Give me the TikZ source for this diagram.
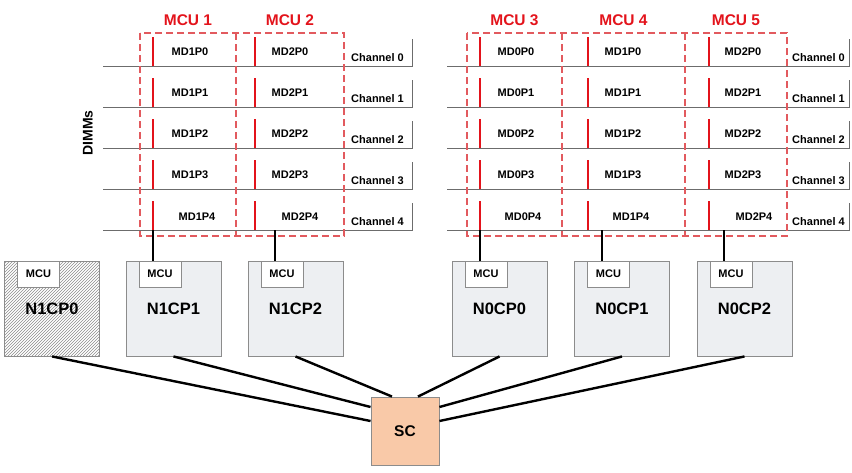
\documentclass[tikz,border=0pt]{standalone}
\usepackage{fontspec}
\setmainfont{Liberation Sans}
\usetikzlibrary{positioning,patterns,calc}
\definecolor{mcured}{HTML}{E3131B}
\definecolor{dashred}{HTML}{E25A5E}
\definecolor{cpufill}{HTML}{EDEFF2}
\definecolor{scfill}{HTML}{F9C9A8}
\definecolor{rimgray}{HTML}{8C8C8C}

\begin{document}
\begin{tikzpicture}[x=1pt, y=-1pt]
		\tikzstyle{every node} = [font=\bfseries, inner sep=0pt]
		\tikzstyle{chan} = [draw=gray!85!black, line width=0.9pt]
		\tikzstyle{slot} = [draw=mcured, line width=2.8pt]
		\tikzstyle{mcubox} = [draw=dashred, line width=1.2pt, dash pattern=on 7pt off 4pt]
		\tikzstyle{cpu} = [draw=rimgray, fill=cpufill, line width=0.9pt, minimum width=95pt, minimum height=95pt]
		\tikzstyle{chip} = [draw=rimgray, fill=white, line width=0.9pt, minimum width=42pt, minimum height=26pt, anchor=north west, font=\bfseries\fontsize{11}{11}\selectfont]
		\tikzstyle{link} = [draw=black, line width=2.4pt]
		\tikzstyle{dimmtxt} = [font=\bfseries\fontsize{11}{11}\selectfont]
		\useasboundingbox (0,0) rectangle (852,472);
		% DIMM channels
		\foreach \r/\y in {0/66, 1/107, 2/148, 3/189, 4/230} {
			\draw[chan] (103,\y) -- (412,\y) -- (412,\y-27);
			\draw[chan] (447,\y) -- (849,\y) -- (849,\y-27);
			\node[anchor=east, dimmtxt] at (404,\y-8) {Channel \r};
			\node[anchor=east, dimmtxt] at (845,\y-8) {Channel \r};
			\foreach \x in {153, 255, 480, 588, 709}
			\draw[slot] (\x,\y) -- (\x,\y-29);
		}
		\foreach \r/\y in {0/66, 1/107, 2/148, 3/189} {
			\foreach \x/\d in {190/1, 290/2, 516/0, 623/1, 743/2}
			\node[dimmtxt] at (\x,\y-14) {MD\d P\r};
		}
		\foreach \x/\d in {197/1, 300/2, 523/0, 631/1, 754/2}
		\node[dimmtxt] at (\x,217) {MD\d P4};
		\node[rotate=90, font=\bfseries\fontsize{14}{14}\selectfont] (dimms) at (88,133) {DIMMs};
		% memory controller groups
		\draw[mcubox] (140,33) rectangle (344,236);
		\draw[mcubox] (467,33) rectangle (787,236);
		\foreach \x in {236, 562, 685}
		\draw[mcubox] (\x,33) -- (\x,236);
		\foreach \a/\b/\n in {140/236/1, 236/344/2, 467/562/3, 562/685/4, 685/787/5}
		\node[text=mcured, font=\bfseries\fontsize{15.5}{15.5}\selectfont] at ({(\a+\b)/2},20) {MCU \n};
		% processors
		\node[cpu, fill=white, pattern=north east lines, pattern color=gray!90] (cpuA) at (52,308.5) {};
		\node[cpu] (cpuB) at (173.5,308.5) {};
		\node[cpu] (cpuC) at (295.5,308.5) {};
		\node[cpu] (cpuD) at (499.5,308.5) {};
		\node[cpu] (cpuE) at (622,308.5) {};
		\node[cpu] (cpuF) at (744.5,308.5) {};
		\foreach \c/\t in {cpuA/N1CP0, cpuB/N1CP1, cpuC/N1CP2, cpuD/N0CP0, cpuE/N0CP1, cpuF/N0CP2} {
			\node[font=\bfseries\fontsize{16.5}{16.5}\selectfont] at (\c) {\t};
			\node[chip] (\c m) at ($(\c.north west)+(13,0)$) {MCU};
		}
		% DIMM buses down to the controllers
		\coordinate (busB) at (153,230);
		\coordinate (busC) at (275,230);
		\coordinate (busD) at (480,230);
		\coordinate (busE) at (602,230);
		\coordinate (busF) at (724,230);
		\foreach \c in {B, C, D, E, F}
		\draw[link] (bus\c) -- (bus\c |- cpu\c m.north);
		% system controller
		\node[draw=rimgray, fill=scfill, line width=0.9pt, minimum width=68pt, minimum height=68pt, font=\bfseries\fontsize{15.5}{15.5}\selectfont] (sc) at (405,431) {SC};
		\coordinate (scw1) at ($(sc.west)+(0,-10)$);
		\coordinate (scw2) at ($(sc.west)+(0,-24)$);
		\coordinate (scn1) at ($(sc.north)+(-13,0)$);
		\coordinate (scn2) at ($(sc.north)+(13,0)$);
		\coordinate (sce2) at ($(sc.east)+(0,-24)$);
		\coordinate (sce1) at ($(sc.east)+(0,-10)$);
		\foreach \from/\to in {cpuA/scw1, cpuB/scw2, cpuC/scn1, cpuD/scn2, cpuE/sce2, cpuF/sce1}
		\draw[link] (\from.south) -- (\to);
	\end{tikzpicture}
\end{document}
